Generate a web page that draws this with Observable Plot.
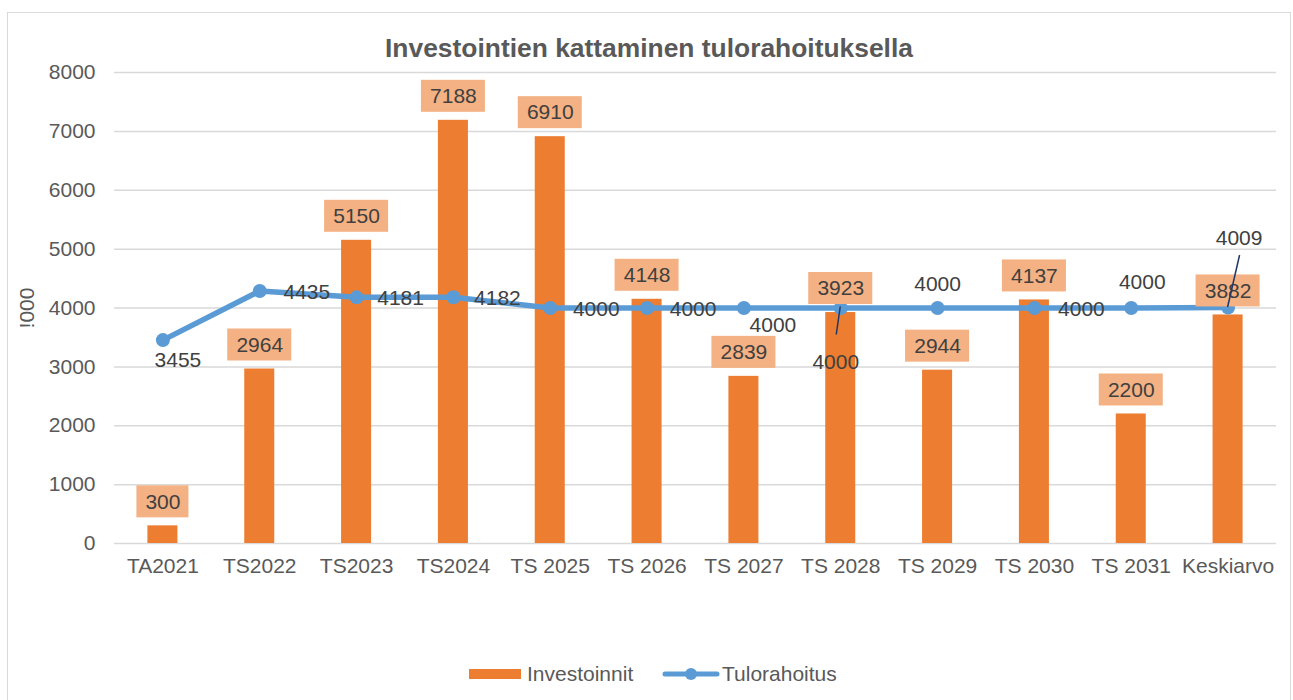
<!DOCTYPE html>
<html><head><meta charset="utf-8">
<script src="https://cdn.jsdelivr.net/npm/d3@7"></script>
<script src="https://cdn.jsdelivr.net/npm/@observablehq/plot@0.6"></script>
<style>
body{margin:0;background:#fff;font-family:"Liberation Sans",Arial,sans-serif;}
#wrap{position:relative;width:1293px;height:700px;overflow:hidden;background:#fff;}
#frame{position:absolute;left:7px;top:12px;width:1284px;height:720px;border:1.5px solid #d9d9d9;box-sizing:border-box;}
#chart{position:absolute;left:0;top:0;}
#title{position:absolute;top:33px;left:7px;width:1284px;text-align:center;font-weight:bold;font-size:26.4px;color:#595959;}
#ylab{position:absolute;left:27px;top:308px;transform:translate(-50%,-50%) rotate(-90deg);font-size:21px;color:#595959;white-space:nowrap;}
.leg{position:absolute;top:661px;font-size:21px;color:#595959;white-space:nowrap;}
</style></head>
<body>
<div id="wrap">
  <div id="frame"></div>
  <div id="chart"></div>
  <div id="title">Investointien kattaminen tulorahoituksella</div>
  <div id="ylab">!000</div>
  <div id="legend"></div>
</div>
<script>
const categories = ["TA2021","TS2022","TS2023","TS2024","TS 2025","TS 2026","TS 2027","TS 2028","TS 2029","TS 2030","TS 2031","Keskiarvo"];
const investoinnit = [300, 2964, 5150, 7188, 6910, 4148, 2839, 3923, 2944, 4137, 2200, 3882];
const tulorahoitus = [3455, 4290, 4181, 4182, 4000, 4000, 4000, 4000, 4000, 4000, 4000, 4009];
const tulorahoitusLabels = ["3455","4435","4181","4182","4000","4000","4000","4000","4000","4000","4000","4009"];
const yTicks = [0, 1000, 2000, 3000, 4000, 5000, 6000, 7000, 8000];
const seriesNames = ["Investoinnit", "Tulorahoitus"];

// label placement (style): pixel offsets of line labels from their points
const lineLabelOffsets = [[15,20],[47,1],[44,1],[44,1],[46,1],[46,1],[29,17],[-5,54],[0,-24],[47,1],[11,-26],[11,-69]];
// leader lines: [index, fromDx, fromDy, toDx, toDy]
const leaders = [[7,0,-1,-4,27],[11,0,0,12,-52]];

const ORANGE = "#ED7D31", LIGHT = "#F4B183", BLUE = "#5B9BD5";

const rows = categories.map((c,i)=>({cat:c, inv:investoinnit[i], tulo:tulorahoitus[i], lab:tulorahoitusLabels[i]}));
const rows4 = rows.filter(d=>String(d.inv).length===4);
const rows3 = rows.filter(d=>String(d.inv).length===3);

const plot = Plot.plot({
  width:1293, height:700,
  marginLeft:114, marginRight:17, marginTop:72, marginBottom:157,
  style:{fontFamily:"'Liberation Sans', Arial, sans-serif", fontSize:"21px", color:"#595959", background:"transparent"},
  x:{domain:categories, paddingInner:0.69, paddingOuter:0.345, round:false, label:null, tickSize:0, tickPadding:15},
  y:{domain:[0,8000], ticks:yTicks, label:null, tickSize:0, tickPadding:19, tickFormat:d=>String(d)},
  marks:[
    Plot.ruleY(yTicks,{stroke:"#d9d9d9", strokeWidth:1.5}),
    Plot.barY(rows,{x:"cat", y:"inv", fill:ORANGE}),
    Plot.lineY(rows,{x:"cat", y:"tulo", stroke:BLUE, strokeWidth:5.5, strokeLinecap:"round", strokeLinejoin:"round"}),
    Plot.dot(rows,{x:"cat", y:"tulo", r:7, fill:BLUE}),
    Plot.barY(rows4,{x:"cat", y1:"inv", y2:"inv", fill:LIGHT, insetTop:-40, insetBottom:8, insetLeft:-17, insetRight:-17}),
    Plot.barY(rows3,{x:"cat", y1:"inv", y2:"inv", fill:LIGHT, insetTop:-40, insetBottom:8, insetLeft:-11, insetRight:-11}),
    Plot.text(rows,{x:"cat", y:"inv", text:d=>String(d.inv), dy:-24, fill:"#404040", fontSize:21}),
    ...rows.map((r,i)=>Plot.text([r],{x:"cat", y:"tulo", text:"lab", dx:lineLabelOffsets[i][0], dy:lineLabelOffsets[i][1], fill:"#404040", fontSize:21}))
  ]
});
document.getElementById("chart").appendChild(plot);

const sx = plot.scale("x"), sy = plot.scale("y");
const svg = d3.select(plot);
leaders.forEach(([i,fx,fy,tx,ty])=>{
  const cx = sx.apply(categories[i]) + sx.bandwidth/2;
  const cy = sy.apply(tulorahoitus[i]);
  svg.append("line").attr("x1",cx+fx).attr("y1",cy+fy).attr("x2",cx+tx).attr("y2",cy+ty)
    .attr("stroke","#1F3864").attr("stroke-width",1.5);
});

// legend
const legend = document.getElementById("legend");
legend.innerHTML =
  `<div class="leg" style="left:469px"><svg width="52" height="24" style="vertical-align:middle"><rect x="0" y="7" width="52" height="10" fill="${ORANGE}"/></svg><span style="margin-left:6px;vertical-align:middle">${seriesNames[0]}</span></div>` +
  `<div class="leg" style="left:662px"><svg width="58" height="24" style="vertical-align:middle"><line x1="3" y1="12" x2="55" y2="12" stroke="${BLUE}" stroke-width="5" stroke-linecap="round"/><circle cx="29" cy="12" r="6" fill="${BLUE}"/></svg><span style="margin-left:2px;vertical-align:middle">${seriesNames[1]}</span></div>`;
</script>
</body></html>
